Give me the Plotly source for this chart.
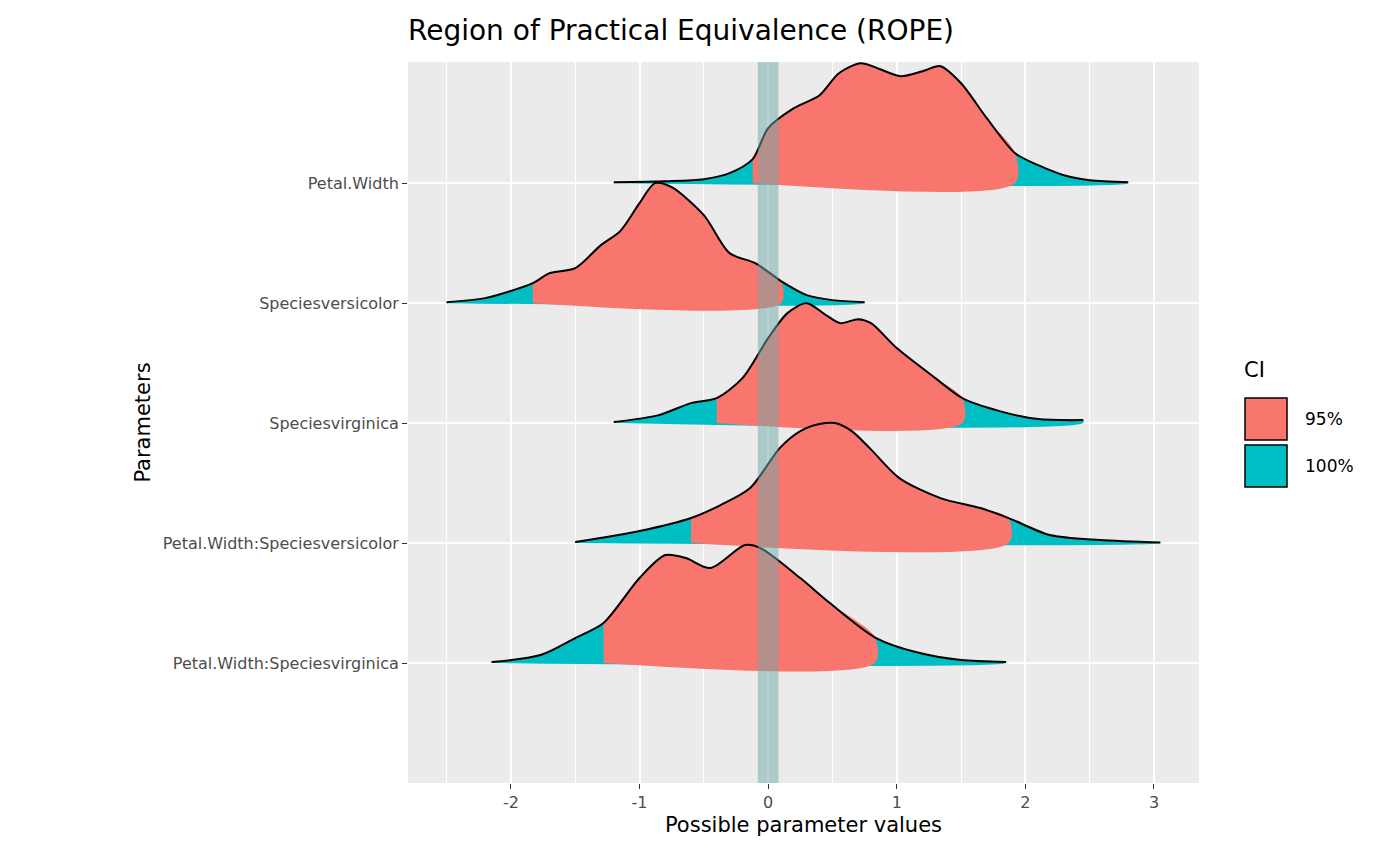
import numpy as np
import plotly.graph_objects as go

params = ["Petal.Width", "Speciesversicolor", "Speciesvirginica",
          "Petal.Width:Speciesversicolor", "Petal.Width:Speciesvirginica"]
baselines = [5, 4, 3, 2, 1]
xs = [
    [-1.2,-0.8,-0.5,-0.3,-0.12,0.0,0.2,0.4,0.55,0.72,0.85,1.03,1.2,1.34,1.5,1.7,1.92,2.1,2.3,2.5,2.8],
    [-2.5,-2.2,-1.83,-1.7,-1.5,-1.3,-1.15,-1.0,-0.88,-0.75,-0.5,-0.3,-0.1,0.1,0.3,0.5,0.75],
    [-1.2,-0.85,-0.6,-0.4,-0.2,0,0.15,0.3,0.45,0.56,0.7,0.8,1.0,1.3,1.51,1.8,2.1,2.45],
    [-1.5,-1.0,-0.6,-0.37,-0.14,0.09,0.25,0.4,0.52,0.65,0.79,1.02,1.34,1.65,1.87,2.19,2.58,3.05],
    [-2.15,-1.77,-1.5,-1.28,-1.0,-0.8,-0.64,-0.45,-0.18,-0.06,0.25,0.48,0.84,1.18,1.5,1.85],
]
hs = [
    [1,2,4,10,24,55,75,88,110,120,115,107,112,117,100,65,30,18,8,3,1],
    [1,5,20,30,35,58,72,100,120,116,88,50,40,22,8,3,1],
    [1,8,20,25,45,85,110,120,108,100,104,100,75,45,25,12,4,3],
    [1,12,25,38,55,95,112,119,120,112,95,65,45,35,25,8,3,0.5],
    [1,8,25,40,85,108,105,95,118,115,85,60,25,10,3,1],
]
ci_low = [-0.12, -1.83, -0.40, -0.60, -1.28]
ci_high = [1.92, 0.10, 1.51, 1.87, 0.83]
rope = [-0.08, 0.08]

RED, CYAN = "#F8766D", "#00BFC4"
SM = 0.8
fig = go.Figure()
for p, b, x, h, lo, hi in zip(params, baselines, xs, hs, ci_low, ci_high):
    x = np.array(x, float); y = b + np.array(h, float) / 120
    fig.add_trace(go.Scatter(x=np.r_[x, x[-1], x[0]], y=np.r_[y, b, b],
                             fill="toself", fillcolor=CYAN, line=dict(width=0, shape="spline", smoothing=SM),
                             mode="lines", hoverinfo="skip", showlegend=False))
    inner = (x > lo) & (x < hi)
    xi = np.r_[lo, x[inner], hi]
    yi = np.interp(xi, x, y)
    fig.add_trace(go.Scatter(x=np.r_[xi, hi, lo], y=np.r_[yi, b, b],
                             fill="toself", fillcolor=RED, line=dict(width=0, shape="spline", smoothing=SM),
                             mode="lines", hoverinfo="skip", showlegend=False))
    fig.add_trace(go.Scatter(x=x, y=y, mode="lines",
                             line=dict(color="black", width=2, shape="spline", smoothing=SM),
                             hoverinfo="skip", showlegend=False))

fig.add_shape(type="rect", xref="x", yref="paper", x0=rope[0], x1=rope[1], y0=0, y1=1,
              fillcolor="rgba(110,170,170,0.5)", line=dict(width=0), layer="above")

def px(v): return (v - 408) / 791
def py(v): return (783 - v) / 721
for (y0, y1, c, t) in [(398, 440, RED, "95%"), (445, 487, CYAN, "100%")]:
    fig.add_shape(type="rect", xref="paper", yref="paper", x0=px(1245), x1=px(1287),
                  y0=py(y1), y1=py(y0), fillcolor=c, line=dict(color="black", width=1.5))
    fig.add_annotation(xref="paper", yref="paper", x=px(1303), y=py((y0 + y1) / 2), text=t,
                       showarrow=False, xanchor="left", font=dict(size=17, color="black"))
fig.add_annotation(xref="paper", yref="paper", x=px(1242), y=py(370), text="CI",
                   showarrow=False, xanchor="left", font=dict(size=21, color="black"))

fig.update_layout(
    width=1384, height=850, plot_bgcolor="#EBEBEB", paper_bgcolor="white",
    margin=dict(l=400, r=193, t=54, b=75),
    font=dict(family="DejaVu Sans"),
    title=dict(text="Region of Practical Equivalence (ROPE)", x=400/1384, xanchor="left",
               y=1 - 22/850, yanchor="middle", font=dict(size=28, color="black")),
    xaxis=dict(range=[-2.8, 3.35], tickvals=[-2, -1, 0, 1, 2, 3], ticktext=["-2", "-1", "0", "1", "2", "3"],
               gridcolor="white", gridwidth=2, zeroline=False, showline=False,
               ticks="outside", ticklen=5, tickcolor="#333", tickfont=dict(size=16, color="#4d4d4d"),
               minor=dict(tickvals=[-2.5, -1.5, -0.5, 0.5, 1.5, 2.5], gridcolor="white", gridwidth=1, ticks=""),
               title=dict(text="Possible parameter values", font=dict(size=21, color="black"), standoff=6)),
    yaxis=dict(range=[0, 6.01], tickvals=baselines, ticktext=params,
               gridcolor="white", gridwidth=2, zeroline=False, showline=False,
               ticks="outside", ticklen=5, tickcolor="#333", tickfont=dict(size=16, color="#4d4d4d"),
               title=dict(text="Parameters", font=dict(size=21, color="black"), standoff=6)),
)
fig.write_html("out.html")
